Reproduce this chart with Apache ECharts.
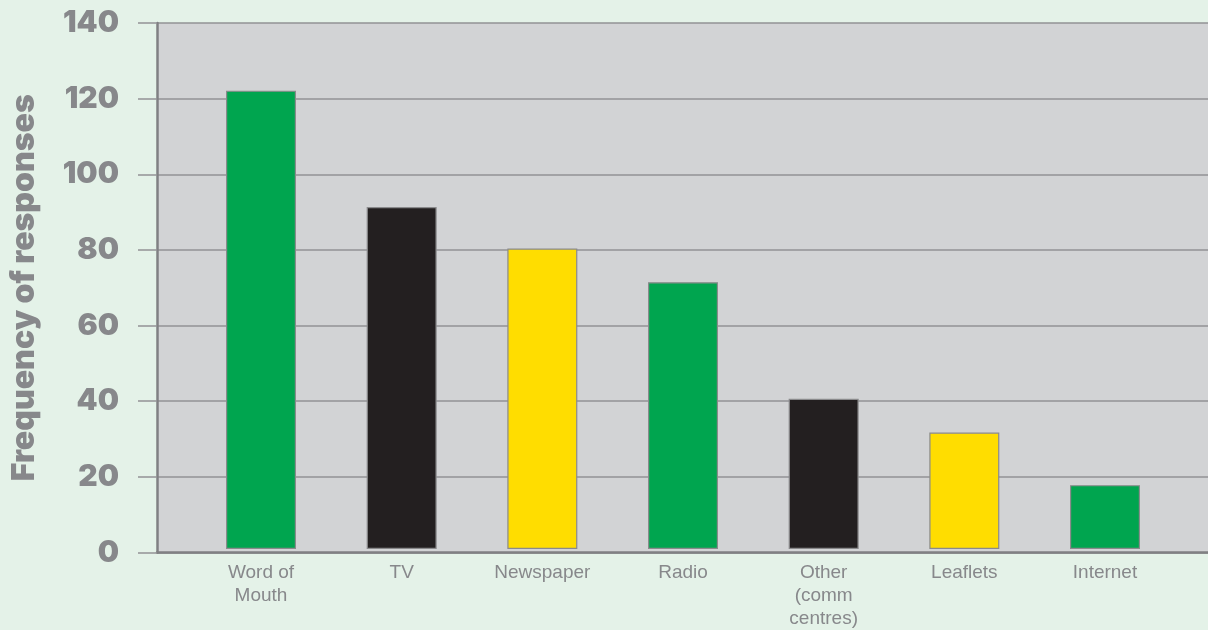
<!DOCTYPE html>
<html>
<head>
<meta charset="utf-8">
<script src="https://cdn.jsdelivr.net/npm/echarts@6/dist/echarts.min.js"></script>
<style>
  html, body { margin: 0; padding: 0; background: #e4f2e8; }
  #chart { width: 1208px; height: 630px; }
</style>
</head>
<body>
<div id="chart"></div>
<script>
// Survey: how people heard about the service
const categories = ['Word of\nMouth', 'TV', 'Newspaper', 'Radio', 'Other\n(comm\ncentres)', 'Leaflets', 'Internet'];
const responses = [122, 91, 80, 71, 40, 31, 17];
const barColors = ['#00a54f', '#231f20', '#ffdd00', '#00a54f', '#231f20', '#ffdd00', '#00a54f'];
const yTicks = { min: 0, max: 140, interval: 20 };
const yTitle = 'Frequency of responses';

const gray = '#87888b';
const heavyFont = 'Inter, Roboto, sans-serif';
const chart = echarts.init(document.getElementById('chart'), null, { renderer: 'canvas' });

chart.setOption({
  backgroundColor: '#e4f2e8',
  animation: false,
  grid: [
    // plot frame with grey fill, value axis and gridlines
    { left: 154, right: 0, top: 23, bottom: 77.5, show: true, backgroundColor: '#d2d3d5', borderWidth: 0 },
    // category band area for the bars
    { left: 190.67, right: 32.67, top: 23, bottom: 77.5 }
  ],
  xAxis: [
    {
      gridIndex: 0, type: 'value', min: 0, max: 1,
      axisLine: { show: true, lineStyle: { color: '#808083', width: 2.5 } },
      axisTick: { show: false }, axisLabel: { show: false }, splitLine: { show: false }
    },
    {
      gridIndex: 1, type: 'category', data: categories,
      axisLine: { show: false }, axisTick: { show: false },
      axisLabel: {
        interval: 0, margin: 12, color: gray,
        fontFamily: 'Liberation Sans, Arial, sans-serif', fontSize: 19, lineHeight: 23
      }
    }
  ],
  yAxis: [
    {
      gridIndex: 0, type: 'value', min: yTicks.min, max: yTicks.max, interval: yTicks.interval,
      name: yTitle, nameLocation: 'middle', nameRotate: 90, nameGap: 117,
      nameTextStyle: { color: gray, fontFamily: heavyFont, fontWeight: 900, fontSize: 32 },
      axisLine: { show: true, lineStyle: { color: '#808083', width: 2.5 } },
      axisTick: { show: true, length: 19, lineStyle: { color: '#929295', width: 1.5 } },
      splitLine: { show: true, lineStyle: { color: '#929295', width: 1.5 } },
      axisLabel: { margin: 38, color: gray, fontFamily: heavyFont, fontWeight: 900, fontSize: 30 }
    },
    {
      gridIndex: 1, type: 'value', min: yTicks.min, max: yTicks.max, interval: yTicks.interval,
      show: false, splitLine: { show: false }
    }
  ],
  series: [{
    type: 'bar',
    xAxisIndex: 1, yAxisIndex: 1,
    barWidth: 70,
    data: responses.map((v, i) => ({
      value: v,
      itemStyle: { color: barColors[i], borderColor: '#8a8a8c', borderWidth: 1.2 }
    }))
  }]
});
</script>
</body>
</html>
